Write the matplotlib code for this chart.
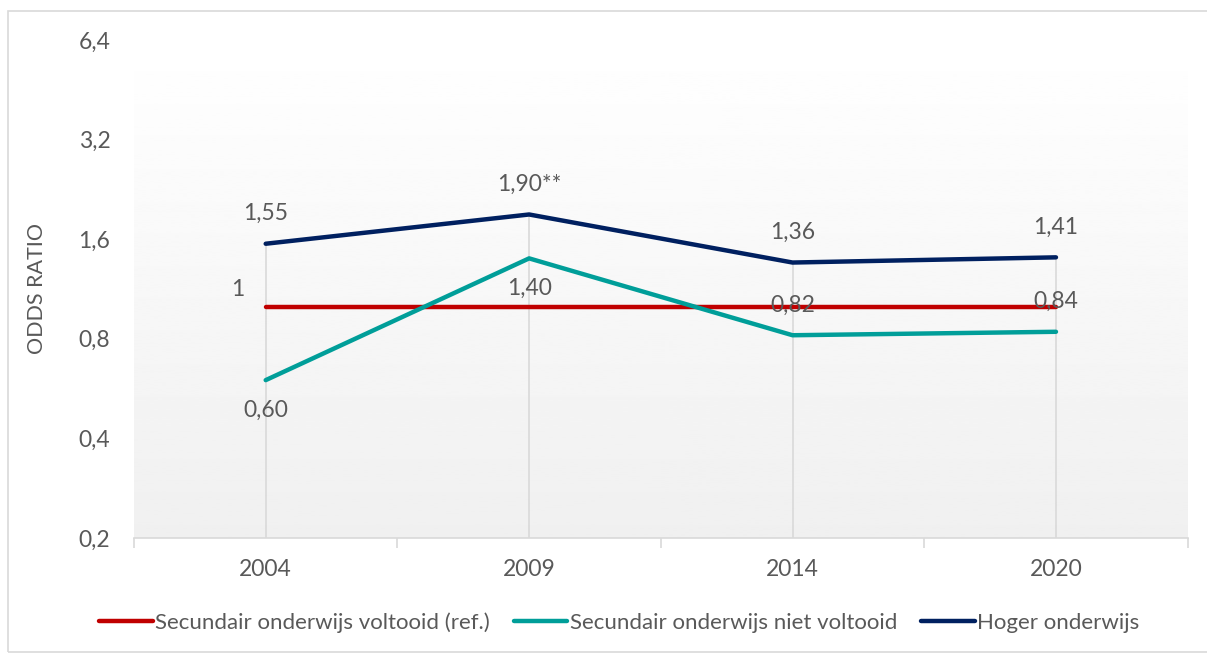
import matplotlib
matplotlib.use("Agg")
import matplotlib.pyplot as plt
import numpy as np
from matplotlib.ticker import FixedLocator, FixedFormatter, NullLocator

years = ["2004", "2009", "2014", "2020"]
ref_vals = [1.0, 1.0, 1.0, 1.0]
niet_vals = [0.60, 1.40, 0.82, 0.84]
hoger_vals = [1.55, 1.90, 1.36, 1.41]
niet_labels = ["0,60", "1,40", "0,82", "0,84"]
hoger_labels = ["1,55", "1,90**", "1,36", "1,41"]
yticks = [0.2, 0.4, 0.8, 1.6, 3.2, 6.4]
ytick_labels = ["0,2", "0,4", "0,8", "1,6", "3,2", "6,4"]

plt.rcParams["font.family"] = ["Lato", "DejaVu Sans"]
txt = "#595959"
fs = 16.5

fig = plt.figure(figsize=(12.07, 6.55), dpi=100)
ax = fig.add_axes([0.111, 0.1786, 0.873, 0.7604])

x = np.arange(len(years))

# background gradient
grad = np.linspace(0.94, 1.0, 256).reshape(-1, 1)
ax.imshow(grad, extent=[0, 1, 0, 1], transform=ax.transAxes, cmap="gray",
          vmin=0, vmax=1, aspect="auto", zorder=0, origin="lower")

# drop lines
tops = np.maximum(np.maximum(ref_vals, niet_vals), hoger_vals)
ax.vlines(x, 0.2, tops, color="#d9d9d9", lw=1.2, zorder=1)

ax.plot(x, ref_vals, color="#c00000", lw=3.2, solid_capstyle="round",
        label="Secundair onderwijs voltooid (ref.)", zorder=3)
ax.plot(x, niet_vals, color="#009e99", lw=3.2, solid_capstyle="round",
        label="Secundair onderwijs niet voltooid", zorder=3)
ax.plot(x, hoger_vals, color="#002060", lw=3.2, solid_capstyle="round",
        label="Hoger onderwijs", zorder=3)

ax.set_yscale("log", base=2)
ax.set_ylim(0.2, 6.4)
ax.set_xlim(-0.5, 3.5)
ax.yaxis.set_major_locator(FixedLocator(yticks))
ax.yaxis.set_major_formatter(FixedFormatter(ytick_labels))
ax.yaxis.set_minor_locator(NullLocator())
ax.set_xticks(x)
ax.set_xticklabels(years)
ax.set_xticks(np.arange(-0.5, 4, 1), minor=True)

ax.tick_params(axis="y", length=0, pad=17, labelsize=fs, labelcolor=txt)
ax.tick_params(axis="x", which="major", length=0, pad=15, labelsize=fs, labelcolor=txt)
ax.tick_params(axis="x", which="minor", length=7, width=1.2, color="#d9d9d9")

for s in ["top", "right", "left"]:
    ax.spines[s].set_visible(False)
ax.spines["bottom"].set_color("#d9d9d9")
ax.spines["bottom"].set_linewidth(1.2)

ax.set_ylabel("ODDS RATIO", fontsize=15.5, color=txt)
ax.yaxis.set_label_coords(-0.083, 0.5)

# data labels
for i in range(len(years)):
    ax.annotate(hoger_labels[i], (x[i], hoger_vals[i]), xytext=(0, 14),
                textcoords="offset points", ha="center", va="bottom",
                fontsize=fs, color=txt, zorder=4)
niet_offsets = [(0, -14), (0, -14), (0, 14), (0, 14)]
for i in range(len(years)):
    dx, dy = niet_offsets[i]
    ax.annotate(niet_labels[i], (x[i], niet_vals[i]), xytext=(dx, dy),
                textcoords="offset points", ha="center",
                va="top" if dy < 0 else "bottom",
                fontsize=fs, color=txt, zorder=4)
ax.annotate("1", (x[0], ref_vals[0]), xytext=(-20, 5), textcoords="offset points",
            ha="center", va="bottom", fontsize=fs, color=txt, zorder=4)

fig.legend(loc="center", bbox_to_anchor=(0.513, 0.05), ncol=3, frameon=False,
           fontsize=16, handlelength=2.4, handletextpad=0.1, columnspacing=1.1,
           labelcolor=txt)

# outer chart border
fig.patches.append(plt.Rectangle((0.007, 0.005), 1.2, 0.978, transform=fig.transFigure,
                                 fill=False, edgecolor="#d9d9d9", lw=1.2))

fig.savefig("out.png", dpi=100)
